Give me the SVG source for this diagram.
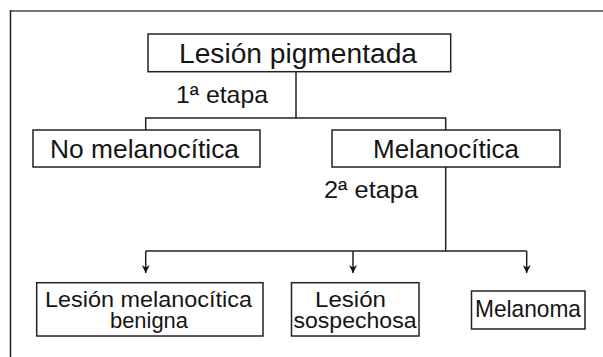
<svg xmlns="http://www.w3.org/2000/svg" width="603" height="357" viewBox="0 0 603 357">
  <style>
    .box { fill: #fff; stroke: #222; stroke-width: 1.5; }
    .lbl { font-family: "Liberation Sans", Arial, sans-serif; fill: #151515; }
    .sm { font-size: 22.5px; }
    .con { fill: none; stroke: #222; stroke-width: 1.5; }
  </style>
  <defs>
    <marker id="arr" markerUnits="userSpaceOnUse" viewBox="0 0 10 10" refX="10" refY="5" markerWidth="10" markerHeight="8" orient="auto">
      <path d="M0,0 L10,5 L0,10 L3,5 z" fill="#111"/>
    </marker>
  </defs>
  <rect width="603" height="357" fill="#fff"/>
  <g id="frame">
    <line x1="10" y1="11" x2="603" y2="11" stroke="#777" stroke-width="2"/>
    <line x1="10.5" y1="10" x2="10.5" y2="357" stroke="#222" stroke-width="1.5"/>
  </g>
  <g id="connectors">
    <path class="con" d="M296,72 V118 M145.7,130 V118 H445.7 V130"/>
    <path class="con" d="M445.7,167 V251 M145.7,251 H526.7"/>
    <path class="con" d="M145.7,251 V273" marker-end="url(#arr)"/>
    <path class="con" d="M353,251 V273" marker-end="url(#arr)"/>
    <path class="con" d="M526.7,251 V273" marker-end="url(#arr)"/>
  </g>
  <g id="n-lesion-pigmentada">
    <rect class="box" x="148" y="34" width="302.7" height="37.7"/>
    <text class="lbl" x="179" y="62.7" font-size="27" textLength="238" lengthAdjust="spacingAndGlyphs">Lesión pigmentada</text>
  </g>
  <g id="lbl-etapa1">
    <text class="lbl" x="176" y="103" font-size="24" textLength="92" lengthAdjust="spacingAndGlyphs">1ª etapa</text>
  </g>
  <g id="n-no-melanocitica">
    <rect class="box" x="33" y="130" width="227" height="37"/>
    <text class="lbl" x="50" y="158" font-size="25" textLength="189" lengthAdjust="spacingAndGlyphs">No melanocítica</text>
  </g>
  <g id="n-melanocitica">
    <rect class="box" x="332" y="130" width="228" height="37"/>
    <text class="lbl" x="373" y="158" font-size="25" textLength="146" lengthAdjust="spacingAndGlyphs">Melanocítica</text>
  </g>
  <g id="lbl-etapa2">
    <text class="lbl" x="324" y="198" font-size="24" textLength="94" lengthAdjust="spacingAndGlyphs">2ª etapa</text>
  </g>
  <g id="n-benigna">
    <rect class="box" x="36.7" y="282.7" width="226.3" height="53.3"/>
    <text class="lbl sm" x="45" y="306.5" textLength="207" lengthAdjust="spacingAndGlyphs">Lesión melanocítica</text>
    <text class="lbl sm" x="110" y="328" textLength="78" lengthAdjust="spacingAndGlyphs">benigna</text>
  </g>
  <g id="n-sospechosa">
    <rect class="box" x="291.5" y="282.7" width="127.5" height="53.3"/>
    <text class="lbl sm" x="315" y="306.5" textLength="71" lengthAdjust="spacingAndGlyphs">Lesión</text>
    <text class="lbl sm" x="293.5" y="328" textLength="123" lengthAdjust="spacingAndGlyphs">sospechosa</text>
  </g>
  <g id="n-melanoma">
    <rect class="box" x="471.5" y="291" width="113.5" height="38"/>
    <text class="lbl" x="475" y="317" font-size="24" textLength="106" lengthAdjust="spacingAndGlyphs">Melanoma</text>
  </g>
</svg>
